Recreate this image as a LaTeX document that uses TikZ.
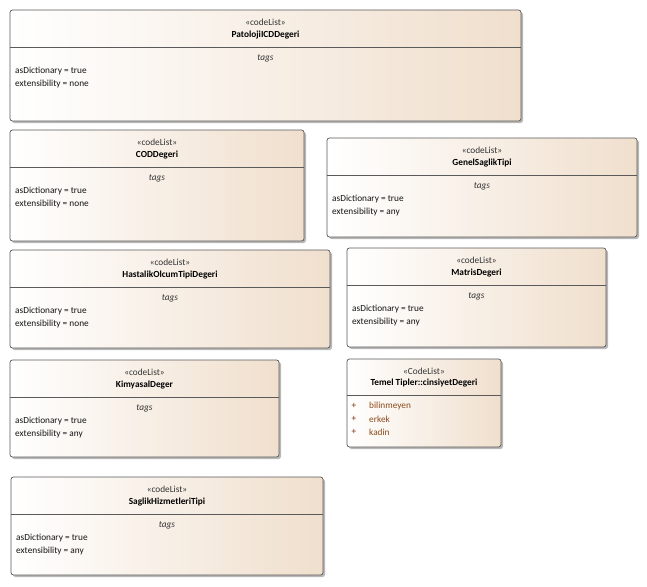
\documentclass[tikz,border=0pt]{standalone}
\usepackage{fontspec}
\setmainfont{Carlito}
\usetikzlibrary{calc}
\definecolor{beige}{HTML}{F0DFCD}
\definecolor{edge}{HTML}{5A5A5A}
\definecolor{shade}{HTML}{B8B8B8}
\definecolor{itemc}{HTML}{8B4A1A}
\definecolor{plusc}{HTML}{7B2D0F}
\tikzset{
  umlbox/.style={draw=edge, line width=0.7pt, rounded corners=2.5pt, left color=white, right color=beige},
  shadowbox/.style={fill=shade, rounded corners=2.5pt},
  divline/.style={draw=edge, line width=0.6pt},
  txt/.style={inner sep=0pt, font=\fontsize{9.3}{11}\selectfont, text=black!92},
  stereo/.style={txt, anchor=center, text=black!80},
  title/.style={txt, anchor=center, font=\fontsize{9.3}{11}\selectfont\bfseries, text=black},
  tagl/.style={txt, anchor=center, font=\fontsize{9.3}{11}\selectfont\itshape, text=black!80},
  attr/.style={txt, anchor=west},
  item/.style={txt, anchor=west, text=itemc},
  plus/.style={txt, anchor=center, text=plusc}
}
% #1 id, #2 x1, #3 y1, #4 x2, #5 y2, #6 title, #7 extensibility
\newcommand{\clbox}[7]{%
  \fill[shadowbox] ({#2+2},{#3+2}) rectangle ({#4+2},{#5+2});
  \path[umlbox] (#2,#3) rectangle (#4,#5);
  \coordinate (#1-nw) at (#2,#3);
  \coordinate (#1-ne) at (#4,#3);
  \draw[divline] (#2,{#3+37}) -- (#4,{#3+37});
  \node[stereo] (#1-st) at ({(#2+#4)/2},{#3+12}) {«codeList»};
  \node[title] (#1-ti) at ({(#2+#4)/2},{#3+25.5}) {#6};
  \node[tagl] (#1-tg) at ({(#2+#4)/2},{#3+48}) {tags};
  \node[attr] (#1-a1) at ({#2+5},{#3+61}) {asDictionary = true};
  \node[attr] (#1-a2) at ({#2+5},{#3+74.5}) {extensibility = #7};
}
\begin{document}
\begin{tikzpicture}[x=1pt,y=-1pt]
\useasboundingbox[fill=white] (0,0) rectangle (647,586);
\clbox{pat}{10}{10}{521}{121}{PatolojiICDDegeri}{none}
\clbox{cod}{10}{130}{304}{241}{CODDegeri}{none}
\clbox{gen}{327}{138}{637}{237}{GenelSaglikTipi}{any}
\clbox{has}{10}{250}{330}{348}{HastalikOlcumTipiDegeri}{none}
\clbox{mat}{347}{248}{606}{347}{MatrisDegeri}{any}
\clbox{kim}{10}{360}{279}{457}{KimyasalDeger}{any}
\clbox{sag}{11}{477}{323}{575}{SaglikHizmetleriTipi}{any}
% cinsiyetDegeri
\fill[shadowbox] (349,361) rectangle (503,449);
\path[umlbox] (347,359) rectangle (501,447);
\draw[divline] (347,395) -- (501,395);
\node[stereo] (cin-st) at (424,371) {«CodeList»};
\node[title] (cin-ti) at (424,383.5) {Temel Tipler::cinsiyetDegeri};
\node[plus] (cin-p1) at (354,406) {+};
\node[plus] (cin-p2) at (354,419) {+};
\node[plus] (cin-p3) at (354,432) {+};
\node[item] (cin-i1) at (369,406) {bilinmeyen};
\node[item] (cin-i2) at (369,419) {erkek};
\node[item] (cin-i3) at (369,432) {kadin};
\end{tikzpicture}
\end{document}
